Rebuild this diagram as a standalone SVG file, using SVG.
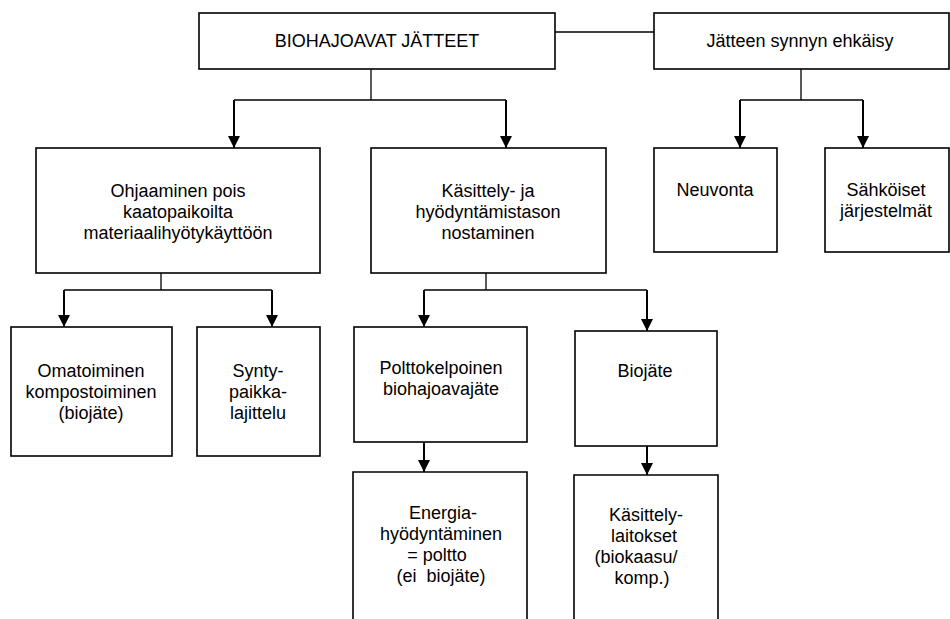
<svg xmlns="http://www.w3.org/2000/svg" width="950" height="619" viewBox="0 0 950 619">
  <style>
    .box { fill: #ffffff; stroke: #000000; stroke-width: 1.6; }
    .stem { fill: none; stroke: #000000; stroke-width: 1.3; }
    .shaft { fill: none; stroke: #000000; stroke-width: 2; marker-end: url(#head); }
    text { font-family: "Liberation Sans", Arial, sans-serif; font-size: 18px; fill: #000000; text-anchor: middle; }
  </style>
  <defs>
    <marker id="head" markerUnits="userSpaceOnUse" markerWidth="12" markerHeight="12" refX="12" refY="6" orient="auto">
      <path d="M0,0 L12,6 L0,12 z" fill="#000000"/>
    </marker>
  </defs>
  <rect width="950" height="619" fill="#ffffff"/>

  <g id="connectors">
    <line class="stem" x1="555" y1="32" x2="654" y2="32"/>
    <polyline class="stem" points="371,69 371,100"/>
    <polyline class="stem" points="234,100 506,100"/>
    <line class="shaft" x1="234" y1="100" x2="234" y2="148"/>
    <line class="shaft" x1="506" y1="100" x2="506" y2="148"/>
    <polyline class="stem" points="801,69 801,100"/>
    <polyline class="stem" points="740,100 863,100"/>
    <line class="shaft" x1="740" y1="100" x2="740" y2="148"/>
    <line class="shaft" x1="863" y1="100" x2="863" y2="148"/>
    <polyline class="stem" points="161,273 161,290"/>
    <polyline class="stem" points="64,290 272,290"/>
    <line class="shaft" x1="64" y1="290" x2="64" y2="327"/>
    <line class="shaft" x1="272" y1="290" x2="272" y2="327"/>
    <polyline class="stem" points="486,273 486,290"/>
    <polyline class="stem" points="424,290 647,290"/>
    <line class="shaft" x1="424" y1="290" x2="424" y2="327"/>
    <line class="shaft" x1="647" y1="290" x2="647" y2="331"/>
    <line class="shaft" x1="424" y1="442" x2="424" y2="472"/>
    <line class="shaft" x1="647" y1="446" x2="647" y2="475"/>
  </g>

  <g id="biohajoavat">
    <rect class="box" x="199" y="13" width="356" height="56"/>
    <text x="377" y="47">BIOHAJOAVAT JÄTTEET</text>
  </g>
  <g id="ehkaisy">
    <rect class="box" x="654" y="13" width="295" height="56"/>
    <text x="800" y="47">Jätteen synnyn ehkäisy</text>
  </g>

  <g id="ohjaaminen">
    <rect class="box" x="36" y="148" width="284" height="125"/>
    <text x="178" y="197">Ohjaaminen pois</text>
    <text x="178" y="218">kaatopaikoilta</text>
    <text x="178" y="239">materiaalihyötykäyttöön</text>
  </g>
  <g id="kasittely">
    <rect class="box" x="371" y="148" width="235" height="125"/>
    <text x="488" y="197">Käsittely- ja</text>
    <text x="488" y="218">hyödyntämistason</text>
    <text x="488" y="239">nostaminen</text>
  </g>
  <g id="neuvonta">
    <rect class="box" x="654" y="148" width="123" height="104"/>
    <text x="715" y="196">Neuvonta</text>
  </g>
  <g id="sahkoiset">
    <rect class="box" x="825" y="148" width="124" height="104"/>
    <text x="886" y="196">Sähköiset</text>
    <text x="886" y="217">järjestelmät</text>
  </g>

  <g id="omatoiminen">
    <rect class="box" x="11" y="327" width="161" height="129"/>
    <text x="91" y="377">Omatoiminen</text>
    <text x="91" y="398">kompostoiminen</text>
    <text x="91" y="419">(biojäte)</text>
  </g>
  <g id="syntypaikka">
    <rect class="box" x="197" y="327" width="123" height="129"/>
    <text x="258" y="377">Synty-</text>
    <text x="258" y="398">paikka-</text>
    <text x="258" y="419">lajittelu</text>
  </g>
  <g id="polttokelpoinen">
    <rect class="box" x="354" y="327" width="173" height="115"/>
    <text x="441" y="374">Polttokelpoinen</text>
    <text x="441" y="395">biohajoavajäte</text>
  </g>
  <g id="biojate">
    <rect class="box" x="575" y="331" width="142" height="115"/>
    <text x="645" y="377">Biojäte</text>
  </g>

  <g id="energia">
    <path class="box" d="M353,625 V472 H527 V625"/>
    <text x="443" y="519">Energia-</text>
    <text x="441" y="540">hyödyntäminen</text>
    <text x="437" y="561">= poltto</text>
    <text x="441" y="582" xml:space="preserve">(ei  biojäte)</text>
  </g>
  <g id="laitokset">
    <path class="box" d="M574,625 V475 H718 V625"/>
    <text x="646" y="521">Käsittely-</text>
    <text x="644" y="542">laitokset</text>
    <text x="636" y="563">(biokaasu/</text>
    <text x="642" y="584">komp.)</text>
  </g>
</svg>
